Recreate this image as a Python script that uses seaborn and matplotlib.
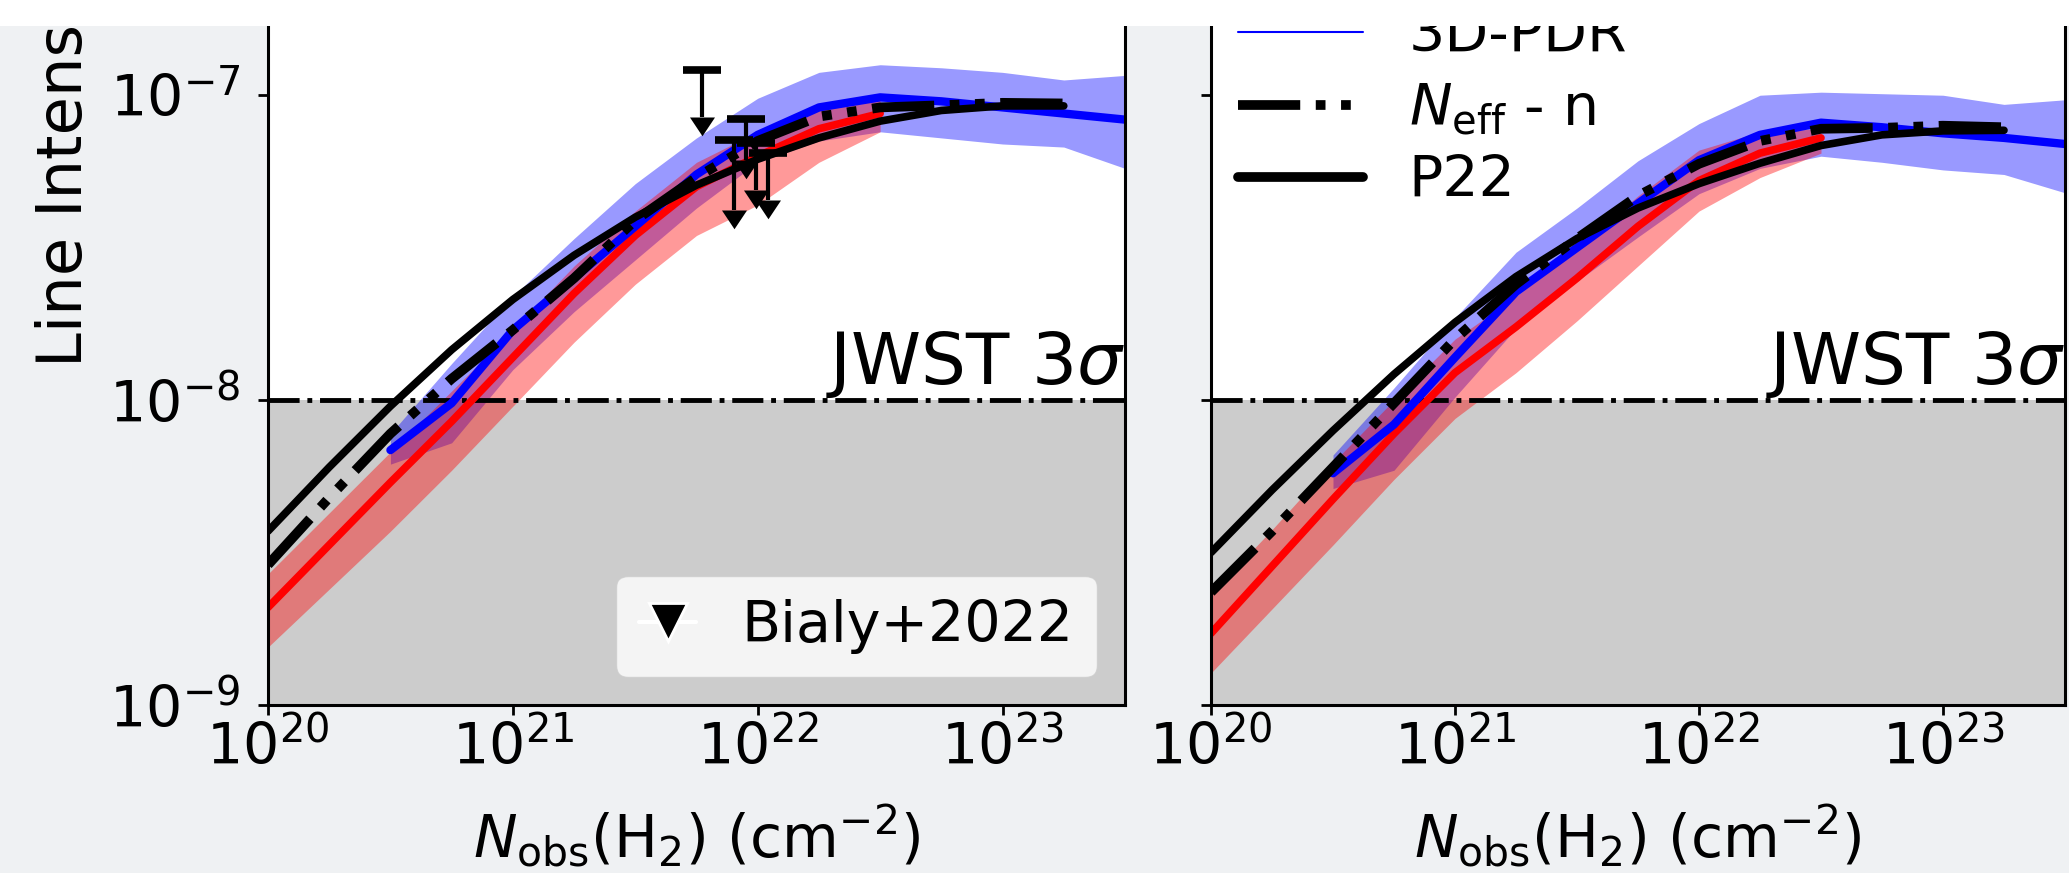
import numpy as np
import pandas as pd
import matplotlib
matplotlib.use("Agg")
import matplotlib.pyplot as plt
import seaborn as sns
from matplotlib.lines import Line2D
from matplotlib.patches import Rectangle
from matplotlib.path import Path
from matplotlib.ticker import LogLocator, NullLocator, LogFormatterMathtext

# ---------------- data (log10 values) ----------------
# column-density grids, log10 N(H2) [cm^-2]
logN_red = [20.0, 20.25, 20.5, 20.75, 21.0, 21.25, 21.5, 21.75, 22.0, 22.25, 22.5]
logN_pdr = [20.5, 20.75, 21.0, 21.25, 21.5, 21.75, 22.0, 22.25, 22.5, 22.75, 23.0, 23.25, 23.5]
logN_fit = [20.0, 20.25, 20.5, 20.75, 21.0, 21.25, 21.5, 21.75, 22.0, 22.25, 22.5, 22.75, 23.0, 23.25]

# left panel: log10 line intensity
red_a = [-8.68, -8.475, -8.27, -8.07, -7.86, -7.65, -7.46, -7.30, -7.20, -7.11, -7.06]
red_a_hi = [-8.57, -8.37, -8.17, -7.97, -7.77, -7.56, -7.38, -7.22, -7.12, -7.04, -7.00]
red_a_lo = [-8.81, -8.62, -8.43, -8.23, -8.02, -7.81, -7.62, -7.46, -7.36, -7.22, -7.12]
pdr_a = [-8.164, -8.01, -7.77, -7.60, -7.43, -7.26, -7.13, -7.04, -7.007, -7.02, -7.04, -7.06, -7.08]
pdr_a_hi = [-8.11, -7.88, -7.66, -7.47, -7.29, -7.14, -7.01, -6.925, -6.90, -6.91, -6.925, -6.95, -6.935]
pdr_a_lo = [-8.21, -8.14, -7.90, -7.71, -7.54, -7.37, -7.22, -7.15, -7.12, -7.14, -7.16, -7.17, -7.24]
neff_a = [-8.54, -8.32, -8.11, -7.93, -7.77, -7.60, -7.41, -7.27, -7.15, -7.07, -7.04, -7.033, -7.025, -7.027]
p22_a = [-8.43, -8.22, -8.02, -7.835, -7.67, -7.525, -7.40, -7.295, -7.21, -7.14, -7.085, -7.05, -7.035, -7.035]

# right panel: log10 line intensity
red_b = [-8.765, -8.545, -8.325, -8.11, -7.91, -7.76, -7.60, -7.43, -7.28, -7.19, -7.14]
red_b_hi = [-8.635, -8.425, -8.205, -8.00, -7.80, -7.66, -7.50, -7.33, -7.18, -7.12, -7.11]
red_b_lo = [-8.895, -8.685, -8.475, -8.26, -8.06, -7.91, -7.74, -7.56, -7.38, -7.27, -7.19]
pdr_b = [-8.24, -8.08, -7.86, -7.645, -7.50, -7.355, -7.213, -7.13, -7.09, -7.105, -7.125, -7.14, -7.16]
pdr_b_hi = [-8.18, -7.96, -7.73, -7.515, -7.37, -7.215, -7.093, -7.00, -6.99, -6.995, -7.00, -7.03, -7.015]
pdr_b_lo = [-8.29, -8.23, -7.99, -7.765, -7.61, -7.465, -7.323, -7.24, -7.20, -7.22, -7.245, -7.26, -7.32]
neff_b = [-8.63, -8.43, -8.22, -8.01, -7.80, -7.62, -7.47, -7.33, -7.225, -7.15, -7.11, -7.107, -7.10, -7.105]
p22_b = [-8.50, -8.295, -8.10, -7.915, -7.745, -7.595, -7.47, -7.37, -7.29, -7.223, -7.165, -7.13, -7.117, -7.115]

# Bialy+2022 upper limits (left panel)
bialy_logN = [21.771, 21.902, 21.951, 21.992, 22.041]
bialy_top = [-6.918, -7.148, -7.079, -7.157, -7.190]
bialy_base = [-7.072, -7.377, -7.213, -7.311, -7.344]

jwst_limit = 1e-8
xlim = (1e20, 10 ** 23.5)
ylim = (1e-9, 10 ** -6.75)

# ---------------- style ----------------
sns.set_style("ticks")
plt.rcParams["font.family"] = ["DejaVu Sans"]
plt.rcParams["mathtext.fontset"] = "dejavusans"
for key in ("text.color", "axes.labelcolor", "xtick.color", "ytick.color",
            "xtick.labelcolor", "ytick.labelcolor", "axes.edgecolor"):
    plt.rcParams[key] = "black"

W, H = 2069, 873
fig = plt.figure(figsize=(W / 100, H / 100), dpi=100)
fig.patch.set_facecolor("#eff1f3")

def px_axes(x0, x1, y0, y1):
    return fig.add_axes([x0 / W, 1 - y1 / H, (x1 - x0) / W, (y1 - y0) / H])

ax1 = px_axes(268, 1125, 19, 705)
ax2 = px_axes(1211, 2065, 19, 705)

TICK_FS = 41
dashdotdot = (0, (6.4, 1.6, 1.0, 1.6, 1.0, 1.6))
arrow_head = Path([(-1, 0), (1, 0), (0, -1.5), (-1, 0)],
                  [Path.MOVETO, Path.LINETO, Path.LINETO, Path.CLOSEPOLY])


def draw_panel(ax, red, red_hi, red_lo, pdr, pdr_hi, pdr_lo, neff, p22):
    ax.set_xscale("log")
    ax.set_yscale("log")
    ax.set_facecolor("white")

    # region below detection limit
    ax.axhspan(1e-11, jwst_limit, color="0.8", zorder=0.5, lw=0)
    ax.axhline(jwst_limit, color="k", ls="-.", lw=3.5, zorder=1.5)

    nr = 10.0 ** np.array(logN_red)
    npdr = 10.0 ** np.array(logN_pdr)
    nf = 10.0 ** np.array(logN_fit)

    ax.fill_between(npdr, 10.0 ** np.array(pdr_lo), 10.0 ** np.array(pdr_hi),
                    color="blue", alpha=0.4, lw=0, zorder=1)
    ax.fill_between(nr, 10.0 ** np.array(red_lo), 10.0 ** np.array(red_hi),
                    color="red", alpha=0.4, lw=0, zorder=1.1)

    df_red = pd.DataFrame({"N": nr, "I": 10.0 ** np.array(red)})
    df_pdr = pd.DataFrame({"N": npdr, "I": 10.0 ** np.array(pdr)})
    df_neff = pd.DataFrame({"N": nf, "I": 10.0 ** np.array(neff)})
    df_p22 = pd.DataFrame({"N": nf, "I": 10.0 ** np.array(p22)})

    sns.lineplot(data=df_red, x="N", y="I", ax=ax, color="red", lw=5.5,
                 errorbar=None, zorder=2)
    sns.lineplot(data=df_pdr, x="N", y="I", ax=ax, color="blue", lw=6,
                 errorbar=None, zorder=2.1)
    sns.lineplot(data=df_neff, x="N", y="I", ax=ax, color="black", lw=7,
                 linestyle=dashdotdot, errorbar=None, zorder=2.3)
    sns.lineplot(data=df_p22, x="N", y="I", ax=ax, color="black", lw=5.5,
                 errorbar=None, zorder=2.2)

    ax.text(1.0, jwst_limit, "JWST $3\\sigma$", transform=ax.get_yaxis_transform(),
            ha="right", va="bottom", fontsize=51, color="k", zorder=3)

    ax.set_xlim(*xlim)
    ax.set_ylim(*ylim)
    ax.xaxis.set_major_locator(LogLocator(base=10, numticks=10))
    ax.yaxis.set_major_locator(LogLocator(base=10, numticks=10))
    ax.xaxis.set_major_formatter(LogFormatterMathtext())
    ax.yaxis.set_major_formatter(LogFormatterMathtext())
    ax.xaxis.set_minor_locator(NullLocator())
    ax.yaxis.set_minor_locator(NullLocator())
    ax.tick_params(axis="both", which="major", direction="out", length=7, width=2,
                   labelsize=TICK_FS, color="k", labelcolor="k")
    ax.tick_params(axis="x", pad=3.5)
    ax.tick_params(axis="y", pad=13)
    for sp in ax.spines.values():
        sp.set_linewidth(2.2)
        sp.set_color("k")
    ax.set_xlabel("$N_{\\rm obs}$(H$_2$) (cm$^{-2}$)", fontsize=42, labelpad=19,
                  color="k")
    ax.set_ylabel("")


draw_panel(ax1, red_a, red_a_hi, red_a_lo, pdr_a, pdr_a_hi, pdr_a_lo, neff_a, p22_a)
draw_panel(ax2, red_b, red_b_hi, red_b_lo, pdr_b, pdr_b_hi, pdr_b_lo, neff_b, p22_b)
ax2.tick_params(axis="y", labelleft=False)

# upper limits: stem, cap at the limit, arrow head below
bx = 10.0 ** np.array(bialy_logN)
btop = 10.0 ** np.array(bialy_top)
bbase = 10.0 ** np.array(bialy_base)
ax1.vlines(bx, bbase, btop, color="k", lw=3, zorder=4)
ax1.plot(bx, btop, ls="none", marker="_", ms=27.4, mew=5.5, color="k", zorder=4)
ax1.plot(bx, bbase, ls="none", marker=arrow_head, ms=27, color="k", mew=0, zorder=4)

bialy_handle = Line2D([], [], color="white", lw=3, marker="v", ms=28,
                      mfc="k", mec="white", mew=2)
leg1 = ax1.legend(handles=[bialy_handle], labels=["Bialy+2022"], loc="lower right",
                  fontsize=41, handlelength=1.0, framealpha=0.8)
for t in leg1.get_texts():
    t.set_color("k")

model_handles = [
    Line2D([], [], color="blue", lw=1.5),
    Line2D([], [], color="black", lw=7, linestyle=dashdotdot),
    Line2D([], [], color="black", lw=7),
]
model_labels = ["3D-PDR", "$N_{\\rm eff}$ - n", "P22"]
leg2 = ax2.legend(handles=model_handles, labels=model_labels, loc="center left",
                  bbox_to_anchor=(1238 / W, 1 - 109 / H), bbox_transform=fig.transFigure,
                  frameon=False, fontsize=41, borderpad=0, borderaxespad=0,
                  handlelength=2.2, handletextpad=0.8, labelspacing=0.3)
for t in leg2.get_texts():
    t.set_color("k")

# y-axis label, running upward from its start
ax1.set_ylabel("Line Intensity", fontsize=45, color="k")
ax1.yaxis.set_label_coords(82 / W, 1 - 367 / H, transform=fig.transFigure)
ax1.yaxis.label.set_horizontalalignment("left")
ax1.yaxis.label.set_verticalalignment("baseline")

# white strip along the top edge
fig.patches.append(Rectangle((0, 1 - 26 / H), 1, 26 / H, transform=fig.transFigure,
                             facecolor="white", edgecolor="none", zorder=10))

fig.savefig("out.png", dpi=100, facecolor=fig.get_facecolor())
